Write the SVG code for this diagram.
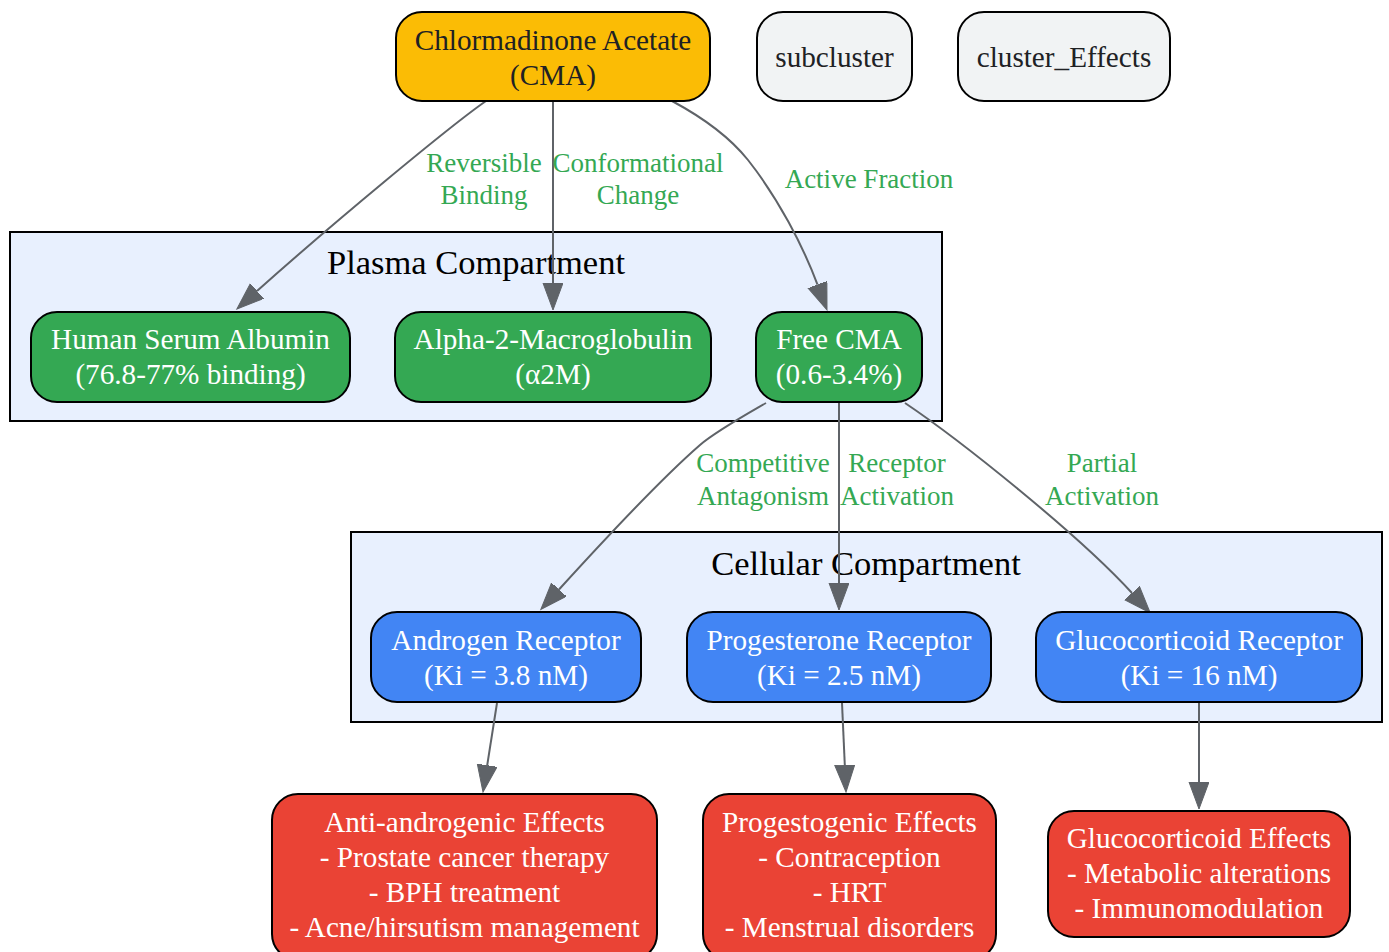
<svg xmlns="http://www.w3.org/2000/svg" width="1389" height="952" viewBox="0 0 1389 952">
<style>
.node{stroke:#000;stroke-width:2}
.cma{fill:#FBBC05}
.grey{fill:#F1F3F4}
.green{fill:#34A853}
.blue{fill:#4285F4}
.red{fill:#EA4335}
.cluster{fill:#E8F0FE;stroke:#000;stroke-width:2}
text{font-family:"Liberation Serif","Times New Roman",serif;text-anchor:middle}
.nt{font-size:29.2px;fill:#fff}
.dt{font-size:29.2px;fill:#202124}
.ct{font-size:34.5px;fill:#000}
.et{font-size:27px;fill:#34A853}
.edge{fill:none;stroke:#5F6368;stroke-width:2;marker-end:url(#ah)}
</style>
<defs>
<marker id="ah" markerUnits="userSpaceOnUse" markerWidth="29" markerHeight="22" refX="0" refY="10" orient="auto">
<path d="M0,0 L27,10 L0,20 z" fill="#5F6368" stroke="#5F6368" stroke-width="1"/>
</marker>
</defs>
<rect width="1389" height="952" fill="#fff"/>
<g id="cluster_plasma">
<rect class="cluster" x="10" y="232" width="932" height="189"/>
<text class="ct" x="476" y="274">Plasma Compartment</text>
</g>
<g id="cluster_cellular">
<rect class="cluster" x="351" y="532" width="1031" height="190"/>
<text class="ct" x="866" y="575">Cellular Compartment</text>
</g>
<g id="edges">
<path class="edge" d="M486,101 C450,126 332,224 257,291"/>
<path class="edge" d="M553,101 L553,283"/>
<path class="edge" d="M672,101 C700,116 728,135 748,160 C778,198 803,246 817.5,284.6"/>
<path class="edge" d="M766,403 C740,418 715,432 700,445 C662,478 604,540 559,589.5"/>
<path class="edge" d="M839,403 L839,583"/>
<path class="edge" d="M905,403 C960,440 1078,534 1132,593"/>
<path class="edge" d="M497,703 L487.2,765.3"/>
<path class="edge" d="M842,703 L844.8,765"/>
<path class="edge" d="M1199,703 L1199,782"/>
<text class="et" x="484" y="172">Reversible</text>
<text class="et" x="484" y="204">Binding</text>
<text class="et" x="638" y="172">Conformational</text>
<text class="et" x="638" y="204">Change</text>
<text class="et" x="869" y="188">Active Fraction</text>
<text class="et" x="763" y="472">Competitive</text>
<text class="et" x="763" y="505">Antagonism</text>
<text class="et" x="897" y="472">Receptor</text>
<text class="et" x="897" y="505">Activation</text>
<text class="et" x="1102" y="472">Partial</text>
<text class="et" x="1102" y="505">Activation</text>
</g>
<g id="cma">
<rect class="node cma" x="396" y="12" width="314" height="89" rx="26"/>
<text class="dt" x="553" y="50">Chlormadinone Acetate</text>
<text class="dt" x="553" y="85">(CMA)</text>
</g>
<g id="subcluster">
<rect class="node grey" x="757" y="12" width="155" height="89" rx="26"/>
<text class="dt" x="834.5" y="67">subcluster</text>
</g>
<g id="cluster_Effects">
<rect class="node grey" x="958" y="12" width="212" height="89" rx="26"/>
<text class="dt" x="1064" y="67">cluster_Effects</text>
</g>
<g id="hsa">
<rect class="node green" x="31" y="312" width="319" height="90" rx="26"/>
<text class="nt" x="190.5" y="349">Human Serum Albumin</text>
<text class="nt" x="190.5" y="384">(76.8-77% binding)</text>
</g>
<g id="a2m">
<rect class="node green" x="395" y="312" width="316" height="90" rx="26"/>
<text class="nt" x="553" y="349">Alpha-2-Macroglobulin</text>
<text class="nt" x="553" y="384">(α2M)</text>
</g>
<g id="free">
<rect class="node green" x="756" y="312" width="166" height="90" rx="26"/>
<text class="nt" x="839" y="349">Free CMA</text>
<text class="nt" x="839" y="384">(0.6-3.4%)</text>
</g>
<g id="ar">
<rect class="node blue" x="371" y="612" width="270" height="90" rx="26"/>
<text class="nt" x="506" y="650">Androgen Receptor</text>
<text class="nt" x="506" y="685">(Ki = 3.8 nM)</text>
</g>
<g id="pr">
<rect class="node blue" x="687" y="612" width="304" height="90" rx="26"/>
<text class="nt" x="839" y="650">Progesterone Receptor</text>
<text class="nt" x="839" y="685">(Ki = 2.5 nM)</text>
</g>
<g id="gr">
<rect class="node blue" x="1036" y="612" width="326" height="90" rx="26"/>
<text class="nt" x="1199" y="650">Glucocorticoid Receptor</text>
<text class="nt" x="1199" y="685">(Ki = 16 nM)</text>
</g>
<g id="anti">
<rect class="node red" x="272" y="794" width="385" height="166" rx="26"/>
<text class="nt" x="464.5" y="832">Anti-androgenic Effects</text>
<text class="nt" x="464.5" y="867">- Prostate cancer therapy</text>
<text class="nt" x="464.5" y="902">- BPH treatment</text>
<text class="nt" x="464.5" y="937">- Acne/hirsutism management</text>
</g>
<g id="prog">
<rect class="node red" x="703" y="794" width="293" height="166" rx="26"/>
<text class="nt" x="849.5" y="832">Progestogenic Effects</text>
<text class="nt" x="849.5" y="867">- Contraception</text>
<text class="nt" x="849.5" y="902">- HRT</text>
<text class="nt" x="849.5" y="937">- Menstrual disorders</text>
</g>
<g id="gluco">
<rect class="node red" x="1048" y="811" width="302" height="126" rx="26"/>
<text class="nt" x="1199" y="848">Glucocorticoid Effects</text>
<text class="nt" x="1199" y="883">- Metabolic alterations</text>
<text class="nt" x="1199" y="918">- Immunomodulation</text>
</g>
</svg>
